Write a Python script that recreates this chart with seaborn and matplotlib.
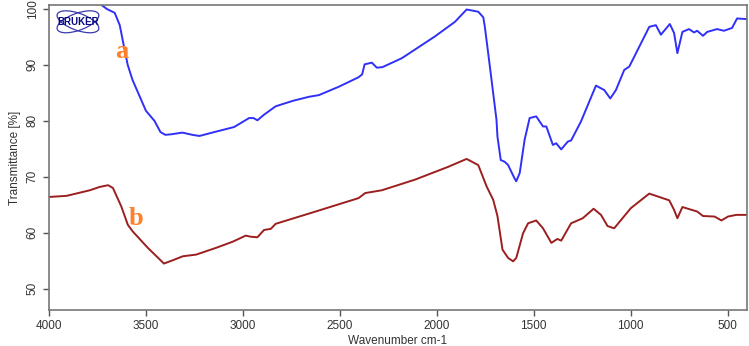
import numpy as np
import pandas as pd
import matplotlib
matplotlib.use("Agg")
import matplotlib.pyplot as plt
import matplotlib.transforms as mtransforms
from matplotlib.patches import Ellipse
import seaborn as sns

# FTIR spectra
wn_a = [3760, 3702, 3661, 3635, 3610, 3594, 3569, 3500, 3456, 3425, 3400, 3370,
        3312, 3260, 3224, 3147, 3045, 2968, 2945, 2925, 2891, 2831, 2740, 2659,
        2608, 2505, 2403, 2385, 2372, 2335, 2309, 2280, 2180, 2009, 1906, 1846,
        1786, 1760, 1752, 1726, 1692, 1687, 1670, 1650, 1632, 1600, 1590, 1572, 1547,
        1521, 1487, 1452, 1435, 1401, 1384, 1358, 1324, 1307, 1256, 1179, 1136,
        1105, 1076, 1033, 1007, 904, 870, 844, 798, 776, 759, 733, 699, 673,
        657, 627, 605, 554, 519, 477, 451, 410, 400]
t_a = [101.5, 100.0, 99.3, 97.1, 92.7, 90.0, 87.3, 81.8, 80.0, 78.0, 77.5, 77.6,
       77.9, 77.5, 77.3, 78.0, 78.9, 80.5, 80.5, 80.1, 81.1, 82.6, 83.6, 84.3,
       84.6, 86.1, 87.8, 88.3, 90.1, 90.4, 89.5, 89.6, 91.2, 95.1, 97.7, 99.9,
       99.5, 98.5, 96.8, 89.7, 80.2, 77.2, 73.0, 72.7, 72.1, 69.8, 69.2, 70.7, 76.6,
       80.5, 80.8, 79.0, 79.0, 75.7, 76.0, 74.9, 76.3, 76.5, 79.9, 86.3, 85.5,
       84.0, 85.5, 89.1, 89.7, 96.8, 97.1, 95.4, 97.3, 95.7, 92.1, 95.9, 96.4, 95.8,
       96.1, 95.2, 95.9, 96.4, 96.1, 96.6, 98.3, 98.2, 98.2]

wn_b = [4000, 3909, 3789, 3738, 3695, 3670, 3627, 3593, 3567, 3490, 3407, 3361,
        3310, 3241, 3139, 3053, 2985, 2960, 2925, 2891, 2856, 2831, 2625, 2403,
        2369, 2283, 2112, 1940, 1846, 1786, 1743, 1709, 1687, 1661, 1632, 1606,
        1590, 1555, 1529, 1487, 1452, 1409, 1378, 1358, 1307, 1247, 1191, 1153,
        1119, 1085, 999, 904, 861, 801, 776, 759, 733, 657, 627, 567, 532, 498,
        455, 400]
t_b = [66.4, 66.6, 67.6, 68.2, 68.5, 68.0, 64.7, 61.4, 60.2, 57.3, 54.5, 55.1,
       55.8, 56.1, 57.3, 58.4, 59.5, 59.3, 59.2, 60.5, 60.7, 61.6, 63.8, 66.2,
       67.1, 67.6, 69.5, 71.8, 73.2, 72.1, 68.3, 65.9, 63.0, 57.0, 55.5, 54.9,
       55.5, 59.9, 61.7, 62.2, 60.8, 58.2, 58.9, 58.6, 61.7, 62.6, 64.3, 63.2,
       61.2, 60.8, 64.4, 67.0, 66.5, 65.8, 64.1, 62.6, 64.6, 63.8, 63.0, 62.9, 62.2, 62.9,
       63.2, 63.2]

x_ticks = [4000, 3500, 3000, 2500, 2000, 1500, 1000, 500]
y_ticks = [50, 60, 70, 80, 90, 100]

sns.set_style("ticks")
plt.rcParams["font.family"] = ["Liberation Sans", "DejaVu Sans"]

fig = plt.figure(figsize=(7.49, 3.46), dpi=100)
ax = fig.add_axes([0.0654, 0.104, 0.9319, 0.8815])

df_a = pd.DataFrame({"wn": wn_a, "t": t_a})
df_b = pd.DataFrame({"wn": wn_b, "t": t_b})
sns.lineplot(data=df_a, x="wn", y="t", ax=ax, color="#3030f8", lw=1.4)
sns.lineplot(data=df_b, x="wn", y="t", ax=ax, color="#9c1f1f", lw=1.4)

ax.set_xlim(4000, 400)
ax.set_ylim(46.2, 100.7)
ax.set_xticks(x_ticks)
ax.set_yticks(y_ticks)
ax.tick_params(axis="both", labelsize=8.5, colors="#555555", labelcolor="#333333",
               length=4, width=1)
plt.setp(ax.get_yticklabels(), rotation=90, va="center")
for s in ax.spines.values():
    s.set_color("#777777")
    s.set_linewidth(1.2)

ax.set_xlabel("Wavenumber cm-1", fontsize=8.5, color="#333333", labelpad=2)
ax.set_ylabel("Transmittance [%]", fontsize=8.5, color="#333333", labelpad=4)

# curve labels
ax.text(3625, 92.4, "a", color="#ff7f2a", fontsize=19, fontweight="bold",
        family="Liberation Serif", ha="center", va="center")
ax.text(3550, 62.6, "b", color="#ff7f2a", fontsize=19, fontweight="bold",
        family="Liberation Serif", ha="center", va="center")

# Bruker logo
lx, ly = 0.0415, 0.945
off = fig.dpi_scale_trans + mtransforms.ScaledTranslation(lx, ly, ax.transAxes)
for ang in (20, -20):
    ax.add_patch(Ellipse((0, 0), 0.44, 0.17, angle=ang, fill=False,
                         ec="#3a3ab0", lw=0.9, transform=off, clip_on=False))
ax.text(lx, ly, "BRUKER", transform=ax.transAxes, fontsize=7,
        fontweight="bold", color="#0a0a80", ha="center", va="center")

fig.savefig("out.png", dpi=100)
